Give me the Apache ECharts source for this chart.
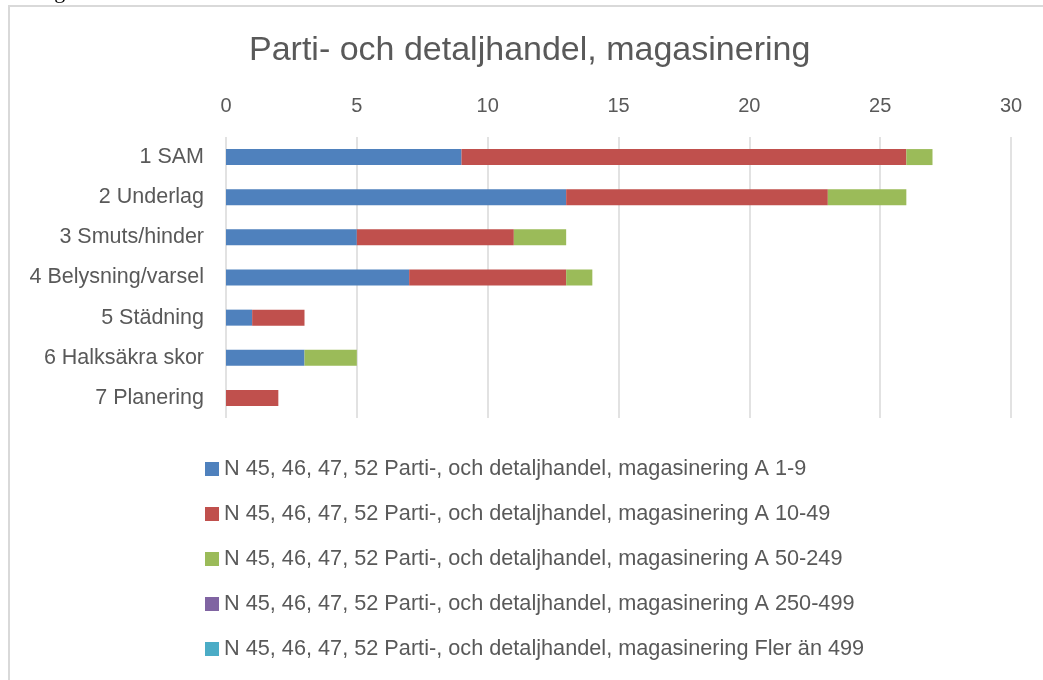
<!DOCTYPE html>
<html>
<head>
<meta charset="utf-8">
<script src="https://cdn.jsdelivr.net/npm/echarts@6/dist/echarts.min.js"></script>
<style>
  html, body { margin: 0; padding: 0; background: #fff; }
  #main { width: 1043px; height: 680px; }
</style>
</head>
<body>
<div id="main"></div>
<script>
// kategorier och värden
var categories = ['1 SAM', '2 Underlag', '3 Smuts/hinder', '4 Belysning/varsel', '5 Städning', '6 Halksäkra skor', '7 Planering'];
var prefix = 'N 45, 46, 47, 52 Parti-, och detaljhandel, magasinering ';
var seriesNames = [prefix + 'A 1-9', prefix + 'A 10-49', prefix + 'A 50-249', prefix + 'A 250-499', prefix + 'Fler än 499'];
var a1_9 = [9, 13, 5, 7, 1, 3, 0];
var a10_49 = [17, 10, 6, 6, 2, 0, 2];
var a50_249 = [1, 3, 2, 1, 0, 2, 0];
var a250_499 = [0, 0, 0, 0, 0, 0, 0];
var fler499 = [0, 0, 0, 0, 0, 0, 0];
var colors = ['#4F81BD', '#C0504D', '#9BBB59', '#8064A2', '#4BACC6'];
var values = [a1_9, a10_49, a50_249, a250_499, fler499];

var font = 'Liberation Sans';
var textColor = '#595959';

var myChart = echarts.init(document.getElementById('main'));

var series = [];
for (var i = 0; i < seriesNames.length; i++) {
    series.push({
        name: seriesNames[i],
        type: 'bar',
        stack: 'total',
        barWidth: 16,
        itemStyle: { color: colors[i] },
        data: values[i]
    });
}

myChart.setOption({
    animation: false,
    textStyle: { fontFamily: font },
    title: {
        text: 'Parti- och detaljhandel, magasinering',
        left: 249,
        top: 34,
        padding: 0,
        textStyle: { fontFamily: font, fontSize: 34, fontWeight: 'normal', color: textColor }
    },
    graphic: [
        {
            type: 'rect',
            shape: { x: 9, y: 6, width: 1100, height: 720 },
            style: { fill: 'none', stroke: '#d9d9d9', lineWidth: 2 },
            silent: true
        },
        {
            type: 'text',
            left: 36,
            top: -19,
            style: { text: 'Fig', font: '22px "Liberation Serif"', fill: '#000' },
            silent: true
        }
    ],
    grid: { left: 226, right: 32, top: 137, height: 281, containLabel: false },
    legend: {
        orient: 'vertical',
        left: 200,
        top: 453,
        itemWidth: 14,
        itemHeight: 14,
        itemGap: 23,
        icon: 'rect',
        textStyle: { fontFamily: font, fontSize: 21.7, color: textColor },
        data: seriesNames
    },
    xAxis: {
        type: 'value',
        position: 'top',
        min: 0,
        max: 30,
        interval: 5,
        axisLine: { show: false },
        axisTick: { show: false },
        axisLabel: { fontFamily: font, fontSize: 20, color: textColor, margin: 21 },
        splitLine: { lineStyle: { color: '#d9d9d9', width: 1.5 } }
    },
    yAxis: {
        type: 'category',
        inverse: true,
        data: categories,
        axisLine: { show: false },
        axisTick: { show: false },
        axisLabel: { fontFamily: font, fontSize: 21.5, color: textColor, margin: 22 }
    },
    series: series
});
</script>
</body>
</html>
